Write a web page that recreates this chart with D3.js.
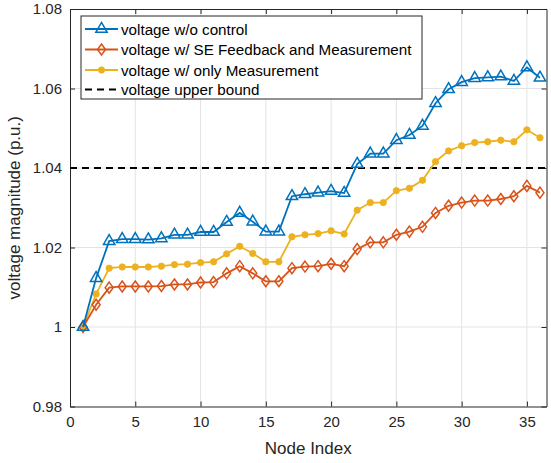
<!DOCTYPE html>
<html><head><meta charset="utf-8">
<script src="https://cdn.jsdelivr.net/npm/d3@7"></script>
<style>
body{margin:0;background:#fff;}
text{font-family:"Liberation Sans",Arial,sans-serif;}
</style></head>
<body><svg id="c" width="551" height="463"></svg>
<script>
const nodes = d3.range(1, 37);
const noControl = [1.000,1.0123,1.0216,1.0221,1.0221,1.0220,1.0223,1.0232,1.0232,1.0239,1.0239,1.0264,1.0287,1.0265,1.0240,1.0240,1.0329,1.0334,1.0338,1.0342,1.0337,1.0410,1.0436,1.0436,1.0470,1.0483,1.0506,1.0563,1.0598,1.0616,1.0626,1.0628,1.0630,1.0619,1.0653,1.0627];
const seFeedback = [1.000,1.0056,1.0099,1.0102,1.0102,1.0102,1.0103,1.0107,1.0107,1.0112,1.0113,1.0135,1.0153,1.0135,1.0115,1.0115,1.0148,1.0152,1.0153,1.0159,1.0153,1.0196,1.0213,1.0213,1.0232,1.0240,1.0252,1.0287,1.0305,1.0313,1.0318,1.0318,1.0322,1.0329,1.0355,1.0338];
const onlyMeas = [1.000,1.0083,1.0148,1.0151,1.0151,1.0151,1.0153,1.0157,1.0158,1.0162,1.0164,1.0184,1.0203,1.0185,1.0164,1.0164,1.0227,1.0232,1.0235,1.0242,1.0234,1.0294,1.0313,1.0313,1.0343,1.0349,1.0369,1.0416,1.0443,1.0456,1.0464,1.0466,1.0470,1.0466,1.0496,1.0476];
const upperBound = 1.04;
const xTicks = [0,5,10,15,20,25,30,35];
const yTicks = [0.98,1.00,1.02,1.04,1.06,1.08];
const legendLabels = ["voltage w/o control","voltage w/ SE Feedback and Measurement","voltage w/ only Measurement","voltage upper bound"];

const svg = d3.select("#c");
const L=70, T=9, R=546.5, B=406.5;
const x = d3.scaleLinear().domain([0,36.5]).range([L,R]);
const y = d3.scaleLinear().domain([0.98,1.08]).range([B,T]);
const axisCol = "#262626";

const g = svg.append("g");
g.selectAll(".gx").data(xTicks.filter(d=>d>0)).enter().append("line")
  .attr("x1",d=>x(d)).attr("x2",d=>x(d)).attr("y1",T).attr("y2",B)
  .attr("stroke","#e3e3e3").attr("stroke-width",1);
g.selectAll(".gy").data(yTicks.filter(d=>d>0.98&&d<1.08)).enter().append("line")
  .attr("y1",d=>y(d)).attr("y2",d=>y(d)).attr("x1",L).attr("x2",R)
  .attr("stroke","#e3e3e3").attr("stroke-width",1);

const fmtY = d => d3.format(".2f")(d).replace(/\.?0+$/,"");
const xa = svg.append("g").attr("transform",`translate(0,${B})`)
  .call(d3.axisBottom(x).tickValues(xTicks).tickSizeInner(-5).tickSizeOuter(0).tickPadding(10));
const xt = svg.append("g").attr("transform",`translate(0,${T})`)
  .call(d3.axisTop(x).tickValues(xTicks).tickSizeInner(-5).tickSizeOuter(0).tickFormat(""));
const ya = svg.append("g").attr("transform",`translate(${L},0)`)
  .call(d3.axisLeft(y).tickValues(yTicks).tickSizeInner(-5).tickSizeOuter(0).tickPadding(8).tickFormat(fmtY));
const yr = svg.append("g").attr("transform",`translate(${R},0)`)
  .call(d3.axisRight(y).tickValues(yTicks).tickSizeInner(-5).tickSizeOuter(0).tickFormat(""));
[xa,xt,ya,yr].forEach(a=>{
  a.selectAll("path").attr("stroke",axisCol).attr("stroke-width",1);
  a.selectAll("line").attr("stroke",axisCol);
  a.selectAll("text").attr("fill",axisCol).style("font-size","15px").style("font-family","'Liberation Sans',Arial,sans-serif");
});

svg.append("line").attr("x1",L).attr("x2",R).attr("y1",y(upperBound)).attr("y2",y(upperBound))
  .attr("stroke","#000").attr("stroke-width",2.2).attr("stroke-dasharray","7,5");

const series = [
  {vals:noControl, color:"#0072BD", marker:"tri"},
  {vals:seFeedback, color:"#D95319", marker:"dia"},
  {vals:onlyMeas, color:"#EDB120", marker:"dot"}
];
const line = d3.line().x((d,i)=>x(nodes[i])).y(d=>y(d));
function drawMarker(sel, m, color){
  if(m==="tri"){
    sel.append("path").attr("d",d3.symbol(d3.symbolTriangle,56)())
      .attr("fill","none").attr("stroke",color).attr("stroke-width",1.5);
  } else if(m==="dia"){
    sel.append("path").attr("d","M0,-5.5L4,0L0,5.5L-4,0Z")
      .attr("fill","none").attr("stroke",color).attr("stroke-width",1.5);
  } else {
    sel.append("circle").attr("r",3.2).attr("fill",color).attr("stroke",color).attr("stroke-width",0.8);
  }
}
series.slice().reverse().forEach(s=>{
  svg.append("path").datum(s.vals).attr("d",line).attr("fill","none")
    .attr("stroke",s.color).attr("stroke-width",1.8);
  s.vals.forEach((v,i)=>{
    const gm = svg.append("g").attr("transform",`translate(${x(nodes[i])},${y(v)})`);
    drawMarker(gm,s.marker,s.color);
  });
});

svg.append("text").attr("x",(L+R)/2).attr("y",454).attr("text-anchor","middle")
  .attr("fill",axisCol).style("font-size","17px").text("Node Index");
svg.append("text").attr("transform",`translate(20,${(T+B)/2}) rotate(-90)`).attr("text-anchor","middle")
  .attr("fill",axisCol).style("font-size","17px").text("voltage magnitude (p.u.)");

const lg = svg.append("g");
lg.append("rect").attr("x",81).attr("y",16).attr("width",341).attr("height",83)
  .attr("fill","#fff").attr("stroke","#262626").attr("stroke-width",1);
const rowsY = [29,49.5,70,89.5];
legendLabels.forEach((lab,i)=>{
  const yy = rowsY[i];
  if(i<3){
    const s = series[i];
    lg.append("line").attr("x1",85).attr("x2",118).attr("y1",yy).attr("y2",yy)
      .attr("stroke",s.color).attr("stroke-width",1.8);
    drawMarker(lg.append("g").attr("transform",`translate(101.5,${yy})`), s.marker, s.color);
  } else {
    lg.append("line").attr("x1",85).attr("x2",118).attr("y1",yy).attr("y2",yy)
      .attr("stroke","#000").attr("stroke-width",2.2).attr("stroke-dasharray","7,5");
  }
  lg.append("text").attr("x",121).attr("y",yy+5.5).attr("fill","#000").style("font-size","15.2px").text(lab);
});
</script></body></html>
